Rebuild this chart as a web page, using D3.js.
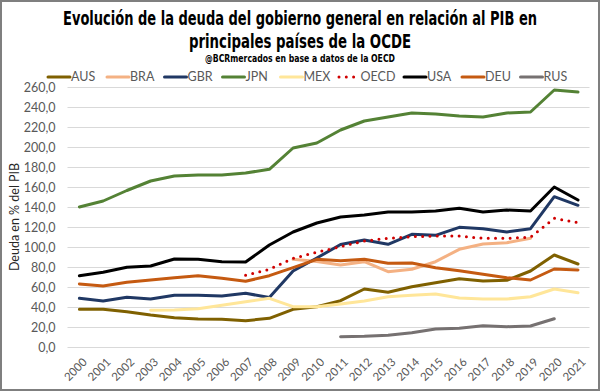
<!DOCTYPE html>
<html><head><meta charset="utf-8">
<script src="https://cdn.jsdelivr.net/npm/d3@7"></script>
<style>body{margin:0;background:#fff}svg{display:block}</style>
</head><body><svg id="c" width="600" height="391"></svg>
<script>
const years = d3.range(2000, 2022).map(String);
const yTicks = [0,20,40,60,80,100,120,140,160,180,200,220,240,260];
const N = null;
const AUS = [37.7,37.7,35.3,32,29.3,28,27.7,26.3,28.7,37.7,40.3,46.3,58,54.7,60.3,64.3,68.3,66,66.7,76,92,83];
const BRA = [N,N,N,N,N,N,N,N,N,87.7,85.5,82,85.3,75.3,77.7,85.3,97.7,103,104.3,108.7,N,N];
const GBR = [48.7,46,49.7,48,51.7,51.7,51,53.7,49.5,76,89,102.5,107,102.7,112.7,111.7,119.7,118.3,115,118.3,150.3,141.7];
const JPN = [140,146,156.5,166,171,172,172,174,177.7,199,204,217,226,230,234,233,231,230,234,235,257,255];
const MEX = [N,N,N,36.7,37,38.3,41.7,45.3,48.7,40.3,40.3,43,46,50.3,51.7,53,49,48,48,50.3,58,54.3];
const OECD = [N,N,N,N,N,N,N,71.7,77.7,88.7,94.7,100.3,106,108.7,110.3,111,111,108.7,108.7,109.7,128.7,124.3];
const USA = [71.3,74.7,79.7,81,88,87.7,85.3,85,102,115,124,130,132,135,135,136,138.7,135,137,136,160,147];
const DEU = [63,61,64.7,67,69.3,71.3,68.7,65.7,71.3,79.3,87.7,86.3,87.7,83.7,84,79.3,76.3,72.7,69.3,67,78,77];
const RUS = [N,N,N,N,N,N,N,N,N,N,N,10.3,10.7,11.7,14.3,18,18.7,21.3,20.3,21,28.3,N];
const seriesNames = ["AUS","BRA","GBR","JPN","MEX","OECD","USA","DEU","RUS"];
const seriesData = [AUS,BRA,GBR,JPN,MEX,OECD,USA,DEU,RUS];
const seriesColors = ["#7F6000","#F4B183","#203864","#548235","#FFE699","#D00000","#000000","#C55A11","#767171"];

const svg = d3.select("#c");
const plotL = 67.5, plotR = 589.5, plotT = 87, plotB = 347;
const x = d3.scalePoint().domain(years).range([79.4, 578]);
const y = d3.scaleLinear().domain([0, 260]).range([plotB, plotT]);

svg.append("rect").attr("x",1).attr("y",1).attr("width",598).attr("height",389)
  .attr("fill","#fff").attr("stroke","#7f7f7f").attr("stroke-width",2);

// Title
const tf = "'Liberation Sans Narrow','Arial Narrow','DejaVu Sans Condensed',sans-serif";
svg.append("text").attr("x",300).attr("y",25).attr("text-anchor","middle")
  .attr("font-family",tf).attr("font-weight","bold").attr("font-size",19)
  .attr("textLength",474).attr("lengthAdjust","spacingAndGlyphs")
  .text("Evolución de la deuda del gobierno general en relación al PIB en");
svg.append("text").attr("x",300).attr("y",48).attr("text-anchor","middle")
  .attr("font-family",tf).attr("font-weight","bold").attr("font-size",19)
  .attr("textLength",222).attr("lengthAdjust","spacingAndGlyphs")
  .text("principales países de la OCDE");
svg.append("text").attr("x",300).attr("y",62).attr("text-anchor","middle")
  .attr("font-family",tf).attr("font-weight","bold").attr("font-size",10.5)
  .attr("textLength",190).attr("lengthAdjust","spacingAndGlyphs")
  .text("@BCRmercados en base a datos de la OECD");

// Gridlines
const lf = "'Lato','Noto Sans',sans-serif";
const yAxis = d3.axisLeft(y).tickValues(yTicks).tickSize(-(plotR-plotL))
  .tickFormat(d => d3.format(".1f")(d).replace(".", ","));
const gy = svg.append("g").attr("transform",`translate(${plotL},0)`).call(yAxis);
gy.select(".domain").remove();
gy.selectAll(".tick line").attr("stroke","#D9D9D9").attr("stroke-width",1);
gy.selectAll(".tick text").attr("x",-12).attr("fill","#595959")
  .attr("font-family",lf).attr("font-size",12.5);

// X axis
const xAxis = d3.axisBottom(x).tickSize(0);
const gx = svg.append("g").attr("transform",`translate(0,${plotB})`).call(xAxis);
gx.select(".domain").remove();
gx.selectAll(".tick text").attr("fill","#595959").attr("font-family",lf).attr("font-size",11.5)
  .attr("text-anchor","end").attr("dy","0.35em")
  .attr("transform","translate(5,13) rotate(-45)").attr("x",0).attr("y",0);

// Y label
svg.append("text").attr("transform","translate(19,217) rotate(-90)").attr("text-anchor","middle")
  .attr("font-family",lf).attr("font-size",12.5).attr("fill","#262626").text("Deuda en % del PIB");

// Lines
const line = d3.line().defined(d => d.v != null).x(d => x(d.yr)).y(d => y(d.v));
seriesNames.forEach((name, i) => {
  const pts = years.map((yr, j) => ({yr, v: seriesData[i][j]}));
  const p = svg.append("path").datum(pts).attr("d", line).attr("fill","none")
    .attr("stroke", seriesColors[i]).attr("stroke-width", 3)
    .attr("stroke-linejoin","round").attr("stroke-linecap","round");
  if (name === "OECD") p.attr("stroke-dasharray","0,7.3").attr("stroke-width",3);
});

// Legend
const legX = [48,107,164.5,222.5,280.5,337.5,404,462,520.5];
seriesNames.forEach((name, i) => {
  const g = svg.append("g").attr("transform",`translate(${legX[i]},77)`);
  const l = g.append("line").attr("x1",0).attr("x2",22).attr("y1",0).attr("y2",0)
    .attr("stroke",seriesColors[i]).attr("stroke-width",3).attr("stroke-linecap","round");
  if (name === "OECD") l.attr("stroke-dasharray","0,7.3").attr("x1",1.5);
  g.append("text").attr("x",23).attr("y",0).attr("dy","0.35em").attr("fill","#595959")
    .attr("font-family",lf).attr("font-size",12.5).text(name);
});
</script></body></html>
